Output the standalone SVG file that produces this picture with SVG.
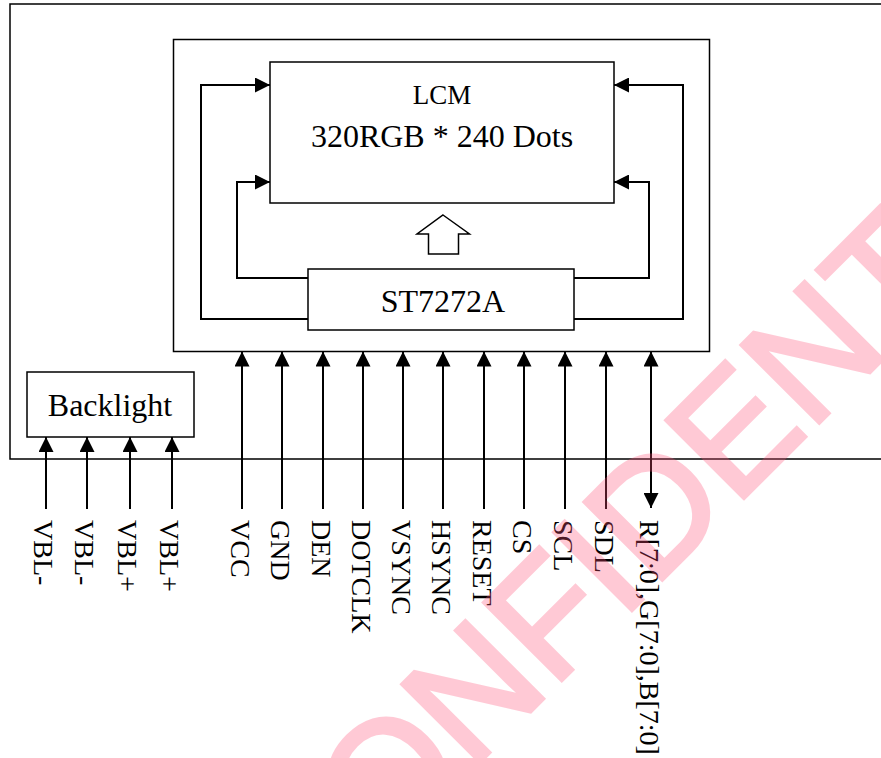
<svg xmlns="http://www.w3.org/2000/svg" width="881" height="758" viewBox="0 0 881 758">
<defs>
<marker id="ah" viewBox="0 0 15 15" refX="15" refY="7.5" markerWidth="15" markerHeight="15" markerUnits="userSpaceOnUse" orient="auto-start-reverse">
<path d="M0,0 L15,7.5 L0,15 z" fill="#000"/>
</marker>
<style>
.box{fill:#fff;stroke:#000;stroke-width:1.5}
.frame{fill:none;stroke:#000;stroke-width:1.5}
.wire{fill:none;stroke:#000;stroke-width:2}
.arr{marker-end:url(#ah)}
.t{font-family:"Liberation Serif","Times New Roman",serif;fill:#000}
.lbl{font-family:"Liberation Serif","Times New Roman",serif;font-size:28px;fill:#000}
.wm{font-family:"Liberation Sans",Arial,sans-serif;font-size:160px;fill:#FF5078;stroke:#FF5078;stroke-width:4;stroke-linejoin:miter}
</style>
</defs>
<rect width="881" height="758" fill="#fff"/>
<g id="module">
<path class="frame" d="M881,4 H10 V459 H881"/>
</g>
<g id="lcm-frame">
<rect class="frame" x="173.5" y="39.5" width="536" height="312"/>
</g>
<g id="lcm">
<rect class="box" x="270" y="62" width="344" height="141"/>
<text class="t" x="442" y="104" font-size="27" text-anchor="middle">LCM</text>
<text class="t" x="442" y="147" font-size="32" text-anchor="middle">320RGB * 240 Dots</text>
</g>
<g id="st7272a">
<rect class="box" x="308" y="269" width="266" height="61"/>
<text class="t" x="443" y="312" font-size="32" text-anchor="middle">ST7272A</text>
</g>
<g id="backlight">
<rect class="box" x="27" y="372" width="167" height="65"/>
<text class="t" x="110" y="416" font-size="32" text-anchor="middle">Backlight</text>
</g>
<g id="connectors">
<polygon class="box" points="443,215 469.5,234 458.5,234 458.5,254 428.5,254 428.5,234 417,234"/>
<path class="wire arr" d="M308,319 H201 V85 H270"/>
<path class="wire arr" d="M308,278 H237 V182 H270"/>
<path class="wire arr" d="M574,319 H683 V85 H614"/>
<path class="wire arr" d="M574,278 H649 V182 H614"/>
<path class="wire arr" d="M242,509 V351.5"/>
<path class="wire arr" d="M282,509 V351.5"/>
<path class="wire arr" d="M323,509 V351.5"/>
<path class="wire arr" d="M363,509 V351.5"/>
<path class="wire arr" d="M403,509 V351.5"/>
<path class="wire arr" d="M443,509 V351.5"/>
<path class="wire arr" d="M484,509 V351.5"/>
<path class="wire arr" d="M524,509 V351.5"/>
<path class="wire arr" d="M565,509 V351.5"/>
<path class="wire arr" d="M606,509 V351.5"/>
<path class="wire arr" d="M651,508 V351.5" marker-start="url(#ah)"/>
<path class="wire arr" d="M46,509 V437"/>
<path class="wire arr" d="M87,509 V437"/>
<path class="wire arr" d="M130,509 V437"/>
<path class="wire arr" d="M172,509 V437"/>
</g>
<g id="labels">
<text class="lbl" transform="translate(34,520) rotate(90)">VBL-</text>
<text class="lbl" transform="translate(75,520) rotate(90)">VBL-</text>
<text class="lbl" transform="translate(118,520) rotate(90)">VBL+</text>
<text class="lbl" transform="translate(160,520) rotate(90)">VBL+</text>
<text class="lbl" transform="translate(231,520) rotate(90)">VCC</text>
<text class="lbl" transform="translate(271,520) rotate(90)">GND</text>
<text class="lbl" transform="translate(312,520) rotate(90)">DEN</text>
<text class="lbl" transform="translate(352,520) rotate(90)">DOTCLK</text>
<text class="lbl" transform="translate(392,520) rotate(90)">VSYNC</text>
<text class="lbl" transform="translate(432,520) rotate(90)">HSYNC</text>
<text class="lbl" transform="translate(473,520) rotate(90)">RESET</text>
<text class="lbl" transform="translate(513,520) rotate(90)">CS</text>
<text class="lbl" transform="translate(554,520) rotate(90)">SCL</text>
<text class="lbl" transform="translate(595,520) rotate(90)">SDL</text>
<text class="lbl" transform="translate(640,520) rotate(90)">R[7:0],G[7:0],B[7:0]</text>
</g>
<g id="watermark" opacity="0.3">
<text class="wm" transform="translate(301,941) rotate(-45)">CONFIDENTIAL</text>
</g>
</svg>
